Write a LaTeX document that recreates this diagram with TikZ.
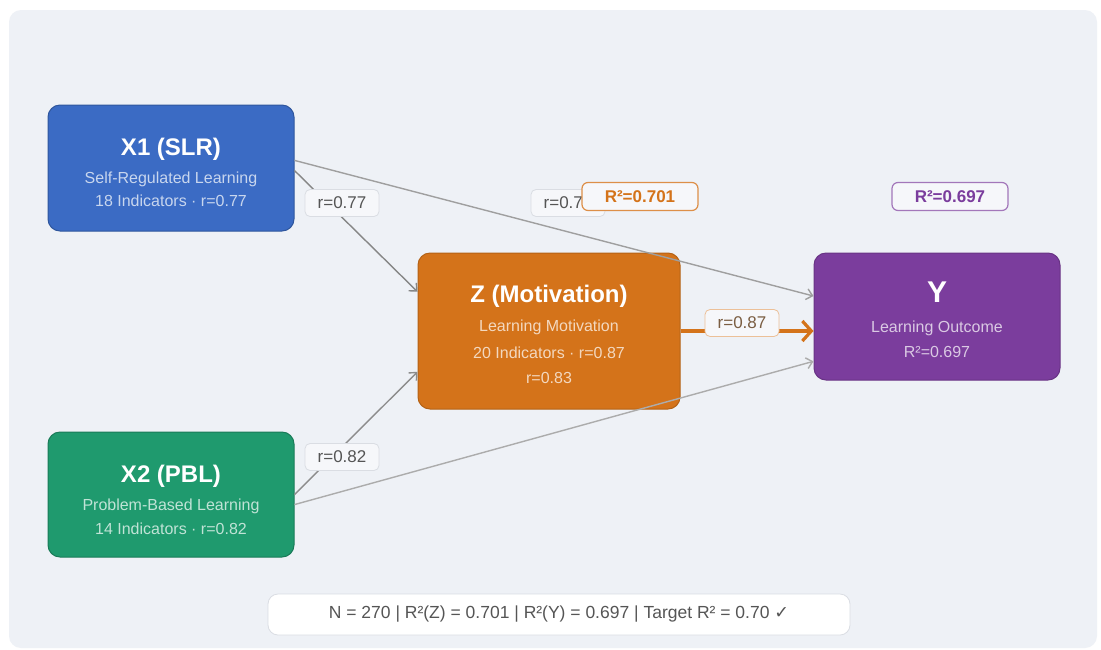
\documentclass[tikz,border=0pt]{standalone}
\usepackage{fontspec}
\setmainfont{Liberation Sans}
\newfontfamily\symfont{DejaVu Sans}
\usetikzlibrary{arrows.meta,calc}
\definecolor{panel}{HTML}{EEF1F6}
\definecolor{slrblue}{HTML}{3B6BC4}
\definecolor{pblgreen}{HTML}{1F9A6E}
\definecolor{motorange}{HTML}{D4731A}
\definecolor{outpurple}{HTML}{7B3D9D}
\definecolor{lblfill}{HTML}{F6F7FA}
\definecolor{lbledge}{HTML}{DADDE3}
\definecolor{lbltext}{HTML}{555555}

\begin{document}
\begin{tikzpicture}[x=1pt,y=-1pt,
	box/.style={rounded corners=12pt, minimum width=246pt, minimum height=126pt, inner sep=0pt, line width=1pt},
	ttl/.style={anchor=base, inner sep=0pt, text=white, font=\fontsize{24}{28}\selectfont\bfseries},
	sub/.style={anchor=base, inner sep=0pt, font=\fontsize{16}{19}\selectfont},
	link/.style={line width=1.4pt, -{Straight Barb[length=6pt,width=11pt]}},
	lbl/.style={rounded corners=5pt, fill=lblfill, draw=lbledge, line width=.8pt, minimum width=74pt, minimum height=27pt, inner sep=0pt, text=lbltext, font=\fontsize{17}{20}\selectfont},
	rsq/.style={rounded corners=6pt, fill=lblfill, line width=1.2pt, minimum width=116pt, minimum height=28pt, inner sep=0pt, font=\fontsize{17}{20}\selectfont\bfseries}]
	\def\subx{white!72!slrblue}
	\def\subg{white!72!pblgreen}
	\def\subo{white!72!motorange}
	\def\subp{white!72!outpurple}
	\useasboundingbox (0,0) rectangle (1101,649);
	\fill[white] (0,0) rectangle (1101,649);
	\fill[panel, rounded corners=12pt] (9,10) rectangle (1097,648);

	% constructs
	\node[box, fill=slrblue, draw=slrblue!80!black] (x1) at (171,168) {};
	\node[ttl] (x1t) at (171,155) {X1 (SLR)};
	\node[sub, text=\subx] (x1s) at (171,183) {Self-Regulated Learning};
	\node[sub, text=\subx] (x1i) at (171,206) {18 Indicators · r=0.77};

	\node[box, fill=pblgreen, draw=pblgreen!80!black, minimum height=125pt] (x2) at (171,494.5) {};
	\node[ttl] (x2t) at (171,482) {X2 (PBL)};
	\node[sub, text=\subg] (x2s) at (171,510) {Problem-Based Learning};
	\node[sub, text=\subg] (x2i) at (171,534) {14 Indicators · r=0.82};

	\node[box, fill=motorange, draw=motorange!85!black, minimum width=262pt, minimum height=156pt] (z) at (549,331) {};
	\node[ttl] (zt) at (549,302) {Z (Motivation)};
	\node[sub, text=\subo] (zs) at (549,331) {Learning Motivation};
	\node[sub, text=\subo] (zi) at (549,358) {20 Indicators · r=0.87};
	\node[sub, text=\subo] (zr) at (549,383) {r=0.83};

	\node[box, fill=outpurple, draw=outpurple!85!black, minimum height=127pt] (y) at (937,316.5) {};
	\node[ttl, font=\fontsize{30}{34}\selectfont\bfseries] (yt) at (937,302) {Y};
	\node[sub, text=\subp] (ys) at (937,332) {Learning Outcome};
	\node[sub, text=\subp] (yr) at (937,357) {R²=0.697};

	% paths
	\foreach \s/\fs/\t/\ft/\col in {x1/.52/z/.25/gray!95, x1/.44/y/.34/gray!75, x2/.5/z/.76/gray!90, x2/.58/y/.85/gray!65}{
		\draw[link, draw=\col] ($(\s.north east)!\fs!(\s.south east)$) -- ($(\t.north west)!\ft!(\t.south west)$);
	}
	\draw[motorange, line width=3.2pt, -{Straight Barb[length=9pt,width=20pt]}] (z.east) -- (z.east -| y.west);

	\node[lbl] (l1) at (342,203) {r=0.77};
	\node[lbl] (l2) at (568,203) {r=0.7\phantom{7}};
	\node[lbl] (l3) at (342,457) {r=0.82};
	\node[lbl, draw=motorange!45, text=lbltext!70!motorange] (l4) at (742,323) {r=0.87};

	\node[rsq, draw=motorange!80, text=motorange] (rz) at (640,196.5) {R²=0.701};
	\node[rsq, draw=outpurple!70, text=outpurple] (ry) at (950,196.5) {R²=0.697};

	\node[rounded corners=10pt, fill=white, draw=lbledge, line width=.8pt, minimum width=582pt, minimum height=41pt, inner sep=0pt, text=lbltext, font=\fontsize{17.5}{21}\selectfont] (stats) at (559,614.5) {N = 270 | R²(Z) = 0.701 | R²(Y) = 0.697 | Target R² = 0.70 {\symfont ✓}};
\end{tikzpicture}
\end{document}
